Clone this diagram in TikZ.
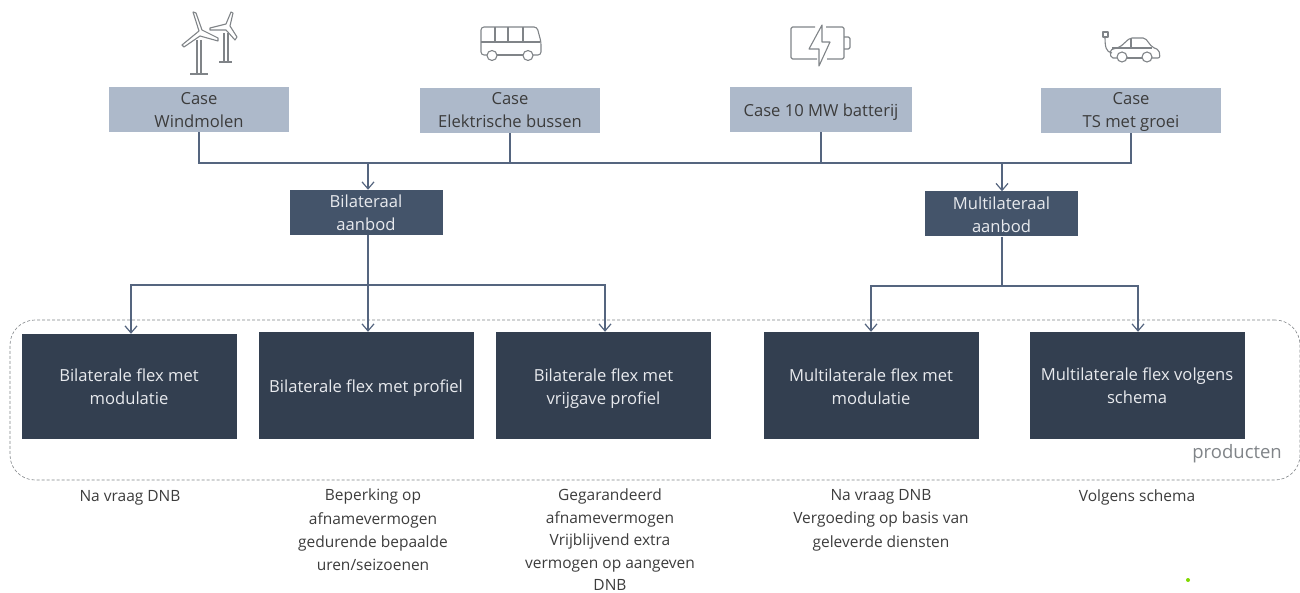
\documentclass[tikz,border=0pt]{standalone}
\usepackage{fontspec}
\setmainfont{Open Sans}
\usetikzlibrary{arrows.meta}
\definecolor{caseblue}{HTML}{ADB9CA}
\definecolor{midnavy}{HTML}{44546A}
\definecolor{darknavy}{HTML}{333F50}
\definecolor{linecol}{HTML}{55657F}
\definecolor{iconcol}{HTML}{808488}
\definecolor{txtdark}{HTML}{3C3C3C}
\definecolor{txtlight}{HTML}{E8EAEE}
\newcommand{\dn}[1]{\rule{0pt}{#1pt}}
\tikzset{
  basefont/.style={font=\fontsize{16.6}{23}\selectfont, align=center},
  casebox/.style={basefont, fill=caseblue, text=txtdark, minimum width=180, minimum height=45, inner sep=0pt},
  offerbox/.style={basefont, fill=midnavy, text=txtlight, minimum width=153, minimum height=45, inner sep=0pt},
  prodbox/.style={basefont, fill=darknavy, text=txtlight, minimum width=215, minimum height=107, inner sep=0pt},
  note/.style={font=\fontsize{15.5}{23.2}\selectfont, align=center, text=txtdark, anchor=north, inner sep=0pt},
  conn/.style={draw=linecol, line width=1.2pt},
  arrowconn/.style={conn, -{Straight Barb[length=7pt,width=12pt,line width=1.2pt]}},
  icon/.style={draw=iconcol, line width=1.1pt, line join=round}
}
\begin{document}
\begin{tikzpicture}[x=1pt,y=-1pt]
\useasboundingbox (0,0) rectangle (1300,593);
% group outline
\node[draw=iconcol, densely dashed, line width=.6pt, rounded corners=25, minimum width=1290, minimum height=160, inner sep=0pt] (group) at (655,400) {};
% top boxes
\node[casebox] (c1) at (199,109.5) {\dn{14}Case\\Windmolen};
\node[casebox] (c2) at (510,110.5) {\dn{12}Case\\Elektrische bussen};
\node[casebox, minimum width=182] (c3) at (821,109.5) {\dn{18}Case 10 MW batterij};
\node[casebox] (c4) at (1131,110.5) {\dn{14}Case\\TS met groei};
% offers
\node[offerbox] (bil) at (366,212.5) {\dn{14}Bilateraal\\aanbod};
\node[offerbox] (mul) at (1001.5,214) {\dn{14}Multilateraal\\aanbod};
% products
\node[prodbox, minimum height=105] (p1) at (129,386.5) {\dn{14}Bilaterale flex met\\modulatie};
\node[prodbox] (p2) at (366,385.5) {\dn{18}Bilaterale flex met profiel};
\node[prodbox] (p3) at (603.5,385.5) {\dn{18}Bilaterale flex met\\vrijgave profiel};
\node[prodbox] (p4) at (871,385.5) {\dn{16}Multilaterale flex met\\modulatie};
\node[prodbox] (p5) at (1137,385.5) {\dn{12}Multilaterale flex volgens\\schema};
% junctions
\coordinate (jb) at (368,163);
\coordinate (jm) at (1002,163);
\coordinate (sb) at (368,285);
\coordinate (sm) at (1002,286);
\coordinate (a1) at (131,285);
\coordinate (a3) at (605,285);
\coordinate (a4) at (871,286);
\coordinate (a5) at (1138,286);
% connectors
\draw[conn] (c1.south) |- (jb);
\draw[conn] (c2.south) |- (jb);
\draw[conn] (c2.south) |- (jm);
\draw[conn] (c3.south) |- (jm);
\draw[conn] (c4.south) |- (jm);
\draw[arrowconn] (jb) -- (jb |- bil.north);
\draw[arrowconn] (jm) -- (jm |- mul.north);
\draw[arrowconn] (jb |- bil.south) -- (jb |- p2.north);
\draw[conn] (jm |- mul.south) -- (sm);
\draw[arrowconn] (sb) -- (a1) -- (a1 |- p1.north);
\draw[arrowconn] (sb) -- (a3) -- (a3 |- p3.north);
\draw[arrowconn] (sm) -- (a4) -- (a4 |- p4.north);
\draw[arrowconn] (sm) -- (a5) -- (a5 |- p5.north);
% labels
\node[note] (n1) at (130,490) {Na vraag DNB};
\node[note] (n2) at (373,489) {Beperking op\\afnamevermogen\\gedurende bepaalde\\uren/seizoenen};
\node[note, font=\fontsize{15.5}{22.4}\selectfont] (n3) at (610,489) {Gegarandeerd\\afnamevermogen\\Vrijblijvend extra\\vermogen op aangeven\\DNB};
\node[note] (n4) at (881,489.5) {Na vraag DNB\\Vergoeding op basis van\\geleverde diensten};
\node[note] (n5) at (1137,490) {Volgens schema};
\node[font=\fontsize{18.5}{22}\selectfont, text=iconcol, anchor=east, inner sep=0pt] (prodlabel) at (1282,454) {producten};
% turbines
\draw[icon] (197,40) -- (197,74) (201,40) -- (201,74) (190,74) -- (208,74);
\draw[icon] (199,31) -- (193,12) -- (196,13) -- (202,30) -- (218,38) -- (218,41) -- (200,36) -- (184,47) -- (182,45) -- cycle;
\draw[icon] (224,33) -- (224,62) (228,33) -- (228,62) (219,62) -- (232,62);
\draw[icon] (226,24) -- (231,12) -- (233,13) -- (230,26) -- (237,37) -- (235,40) -- (226,30) -- (210,30) -- (210,28) -- cycle;
% bus
\draw[icon, rounded corners=3] (487,55) -- (481,55) -- (481,27) -- (537,27) -- (541,42) -- (541,55) -- (533,55);
\draw[icon] (497,55) -- (523,55);
\draw[icon] (481,42) -- (540,42) (495,27) -- (495,42) (508,27) -- (508,42) (523,27) -- (523,42);
\draw[icon] (492,55.5) circle (5) (528,55.5) circle (5);
% battery
\draw[icon, rounded corners=1.5] (815,27) -- (791,27) -- (791,59) -- (817,59);
\draw[icon, rounded corners=1.5] (826,27) -- (844,27) -- (844,59) -- (827,59);
\draw[icon, rounded corners=1.5] (844,37) -- (850,37) -- (850,49) -- (844,49);
\draw[icon] (822,25) -- (809,49) -- (819,49) -- (819,66) -- (830,42) -- (822,42) -- cycle;
% car
\draw[icon, rounded corners=2] (1117,58) -- (1111,58) -- (1110,50) -- (1120,47) -- (1130,38) -- (1145,38) -- (1152,47) -- (1159,50) -- (1160,58) -- (1152,58);
\draw[icon] (1127,58) -- (1142,58) (1112,48) -- (1152,48) (1131,38) -- (1131,48);
\draw[icon] (1122,57) circle (5) (1147,57) circle (5);
\draw[icon] (1105,37) .. controls (1105,47) and (1106,52) .. (1112,53);
\draw[icon] (1103,32) rectangle (1108,37);
% stray dot
\fill[fill=green!50!yellow!70!olive] (1188,580) circle (2);
\end{tikzpicture}
\end{document}
